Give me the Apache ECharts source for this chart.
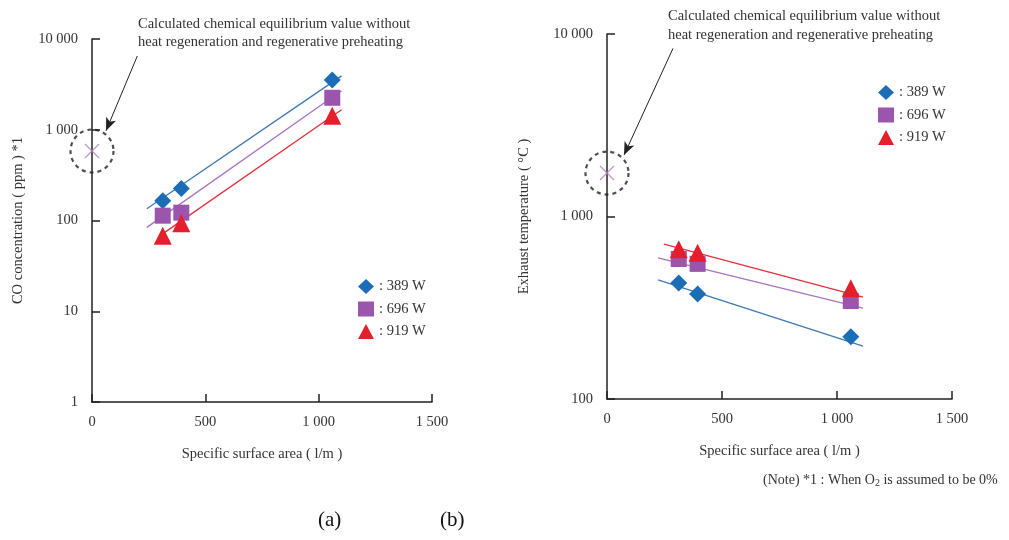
<!DOCTYPE html>
<html>
<head>
<meta charset="utf-8">
<script src="https://cdn.jsdelivr.net/npm/echarts@6/dist/echarts.min.js"></script>
<style>
  html, body { margin: 0; padding: 0; background: #fff; }
  #chart { width: 1009px; height: 540px; }
</style>
</head>
<body>
<div id="chart"></div>
<script>
// specific surface area of the three samples (1/m)
const surfaceArea = [312, 394, 1060]

// (a) CO concentration, ppm
const co389 = [165, 225, 3540]
const co696 = [113, 122, 2250]
const co919 = [68, 93, 1425]
// fitted lines (a): [x, y] endpoints
const coFit389 = [[242, 135], [1101, 3920]]
const coFit696 = [[242, 84], [1101, 2690]]
const coFit919 = [[321, 74], [1101, 1660]]
const coEquilibrium = [[0, 583]]
const coArrow = [[200, 6500], [62, 975]]

// (b) exhaust temperature, deg C
const temp389 = [432, 376, 219]
const temp696 = [585, 550, 344]
const temp919 = [662, 632, 405]
const tempFit389 = [[222, 449], [1113, 195]]
const tempFit696 = [[222, 593], [1113, 315]]
const tempFit919 = [[248, 706], [1113, 362]]
const tempEquilibrium = [[0, 1730]]
const tempArrow = [[287, 8340], [74, 2170]]

const legendNames = ['389 W', '696 W', '919 W']
const xTicks = { 0: '0', 500: '500', 1000: '1 000', 1500: '1 500' }

const FONT = 'Liberation Serif'
const FS = 14.5
const BLUE = '#1b6db6'
const PURPLE = '#9b55ad'
const RED = '#e41f2b'

const zip = ys => ys.map((v, i) => [surfaceArea[i], v])
const fmtNum = v => {
  const n = Math.round(v)
  return n >= 1000 ? String(n).replace(/\B(?=(\d{3})+(?!\d))/g, ' ') : String(n)
}

function xAxisOf(idx) {
  return {
    type: 'value', gridIndex: idx, min: 0, max: 1500, interval: 500,
    name: 'Specific surface area ( l/m )', nameLocation: 'middle', nameGap: 45,
    nameTextStyle: { fontFamily: FONT, fontSize: FS, color: '#333' },
    axisLine: { lineStyle: { color: '#222', width: 1.5 } },
    axisTick: { inside: true, length: 8, lineStyle: { color: '#222', width: 1.5 } },
    axisLabel: { margin: 13, fontFamily: FONT, fontSize: FS, color: '#333', formatter: v => xTicks[v] },
    splitLine: { show: false },
  }
}

function yAxisOf(idx, min, name, gap) {
  return {
    type: 'log', logBase: 10, gridIndex: idx, min, max: 10000,
    name, nameLocation: 'middle', nameGap: gap,
    nameTextStyle: { fontFamily: FONT, fontSize: FS, color: '#333' },
    axisLine: { show: true, lineStyle: { color: '#222', width: 1.5 } },
    axisTick: { show: true, inside: true, length: 8, lineStyle: { color: '#222', width: 1.5 } },
    axisLabel: { margin: 14, fontFamily: FONT, fontSize: FS, color: '#333', formatter: fmtNum },
    splitLine: { show: false },
    minorTick: { show: false },
  }
}

function fitLine(idx, data, color) {
  return {
    type: 'line', xAxisIndex: idx, yAxisIndex: idx, data, showSymbol: false, symbol: 'none',
    silent: true, z: 1, lineStyle: { color, width: 1.3 },
  }
}

function points(idx, name, ys, symbol, size, color, z) {
  return {
    type: 'scatter', name, xAxisIndex: idx, yAxisIndex: idx, data: zip(ys),
    symbol, symbolSize: size, itemStyle: { color, opacity: 1 }, z,
  }
}

function equilibrium(idx, data, arrow) {
  return [
    {
      type: 'scatter', xAxisIndex: idx, yAxisIndex: idx, data, silent: true, z: 3,
      symbol: 'circle', symbolSize: 43,
      itemStyle: { color: 'transparent', borderColor: '#222', borderWidth: 2.2, borderType: [4, 4] },
      markLine: {
        silent: true, symbol: ['none', 'arrow'], symbolSize: [8, 13],
        label: { show: false },
        lineStyle: { color: '#222', width: 1, type: 'solid' },
        data: [[{ coord: arrow[0] }, { coord: arrow[1] }]],
      },
    },
    {
      type: 'scatter', xAxisIndex: idx, yAxisIndex: idx, data, silent: true, z: 3,
      symbol: 'path://M0,0L10,10M10,0L0,10', symbolSize: 14,
      itemStyle: { color: 'transparent', borderColor: '#b27cc4', borderWidth: 1.3 },
    },
  ]
}

function legendOf(left, top) {
  return {
    orient: 'vertical', left, top, itemWidth: 16, itemHeight: 15, itemGap: 7.5,
    selectedMode: false,
    textStyle: { fontFamily: FONT, fontSize: FS, color: '#333' },
    formatter: n => ': ' + n,
    data: [
      { name: legendNames[0], icon: 'diamond' },
      { name: legendNames[1], icon: 'rect' },
      { name: legendNames[2], icon: 'triangle' },
    ],
  }
}

const annotation = ['Calculated chemical equilibrium value without', 'heat regeneration and regenerative preheating'].join('\n')

const option = {
  animation: false,
  backgroundColor: '#fff',
  grid: [
    { left: 92, top: 39, width: 340, height: 363 },
    { left: 607, top: 34, width: 345, height: 365 },
  ],
  xAxis: [xAxisOf(0), xAxisOf(1)],
  yAxis: [
    yAxisOf(0, 1, 'CO concentration ( ppm ) *1', 66),
    yAxisOf(1, 100, 'Exhaust temperature ( °C )', 75),
  ],
  legend: [legendOf(353, 274), legendOf(873, 80)],
  series: [
    fitLine(0, coFit389, '#3f78b3'),
    fitLine(0, coFit696, '#a775bd'),
    fitLine(0, coFit919, '#e2303c'),
    points(0, legendNames[0], co389, 'diamond', 17, BLUE, 4),
    points(0, legendNames[1], co696, 'rect', 16, PURPLE, 5),
    points(0, legendNames[2], co919, 'triangle', 18, RED, 6),
    ...equilibrium(0, coEquilibrium, coArrow),

    fitLine(1, tempFit389, '#3f78b3'),
    fitLine(1, tempFit696, '#a775bd'),
    fitLine(1, tempFit919, '#e2303c'),
    points(1, legendNames[0], temp389, 'diamond', 17, BLUE, 4),
    points(1, legendNames[1], temp696, 'rect', 16, PURPLE, 5),
    points(1, legendNames[2], temp919, 'triangle', 18, RED, 6),
    ...equilibrium(1, tempEquilibrium, tempArrow),
  ],
  graphic: [
    { type: 'text', left: 138, top: 15, style: { text: annotation, font: FS + 'px "Liberation Serif"', fill: '#333', lineHeight: 18 } },
    { type: 'text', left: 668, top: 7, style: { text: annotation, font: FS + 'px "Liberation Serif"', fill: '#333', lineHeight: 19 } },
    {
      type: 'text', left: 763, top: 473,
      style: {
        text: '(Note) *1 : When O{sub|2} is assumed to be 0%',
        font: '14px "Liberation Serif"', fill: '#333',
        rich: { sub: { fontSize: 10, fontFamily: FONT, verticalAlign: 'bottom', padding: [6, 0, 0, 0], fill: '#333' } },
      },
    },
    { type: 'text', left: 318, top: 510, style: { text: '(a)', font: '21px "Liberation Serif"', fill: '#111' } },
    { type: 'text', left: 440, top: 510, style: { text: '(b)', font: '21px "Liberation Serif"', fill: '#111' } },
  ],
}

const chart = echarts.init(document.getElementById('chart'))
chart.setOption(option)
</script>
</body>
</html>
